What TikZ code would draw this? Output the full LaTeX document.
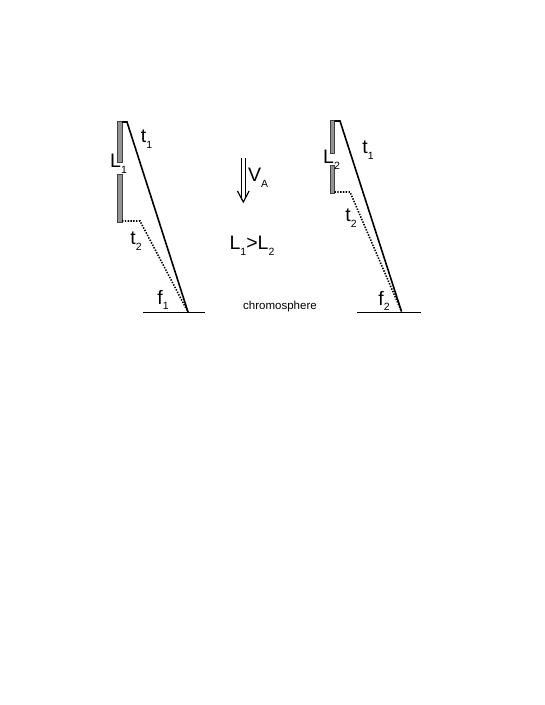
\documentclass[tikz,border=0pt]{standalone}
\usepackage{fontspec}
\setmainfont{Liberation Sans}
\usetikzlibrary{calc}
\newcommand\mysub[1]{\raisebox{-0.3em}{\fontsize{10.5}{11}\selectfont #1}}
\tikzset{
  lbl/.style={inner sep=0pt, font=\fontsize{19.5}{20}\selectfont},
  small/.style={inner sep=0pt, font=\fontsize{11.5}{12}\selectfont},
  bar/.style={fill=black!42, draw=black!75, line width=0.6pt},
  solidline/.style={line width=1.6pt, line join=miter},
  dotline/.style={line width=1.6pt, dash pattern=on 1.4pt off 1.4pt},
  ground/.style={line width=0.9pt},
  arr/.style={line width=1.2pt},
}
\begin{document}
\begin{tikzpicture}[x=1pt,y=-1pt]
\useasboundingbox (0,0) rectangle (545,705);
% ---- left loop ----
\draw[bar] (117.5,121.5) rectangle (122,162);
\draw[bar] (117.5,174) rectangle (122,222);
\coordinate (a1) at (122,122);
\coordinate (a2) at (127,122);
\coordinate (fp1) at (188,312);
\coordinate (b1) at (122,221);
\coordinate (b2) at (140,221);
\coordinate (g1l) at (143,312);
\coordinate (g1r) at (205,312);
\draw[solidline] (a1) -- (a2) -- (fp1);
\draw[dotline] (b1) -- (b2) -- (fp1);
\draw[ground] (g1l) -- (g1r);
\node[lbl] (t1a) at (146.5,139) {t\mysub{1}};
\node[lbl] (L1) at (118.5,164) {L\mysub{1}};
\node[lbl] (t2a) at (136,241) {t\mysub{2}};
\node[lbl] (f1) at (163,300) {f\mysub{1}};
% ---- right loop ----
\draw[bar] (330,120.5) rectangle (334.5,153);
\draw[bar] (330,165) rectangle (334.5,193);
\coordinate (c1) at (334.5,121);
\coordinate (c2) at (340,121);
\coordinate (fp2) at (401.5,311.5);
\coordinate (d1) at (334.5,192);
\coordinate (d2) at (350,192);
\coordinate (g2l) at (357,312);
\coordinate (g2r) at (421,312);
\draw[solidline] (c1) -- (c2) -- (fp2);
\draw[dotline] (d1) -- (d2) -- (fp2);
\draw[ground] (g2l) -- (g2r);
\node[lbl] (t1b) at (368,150) {t\mysub{1}};
\node[lbl] (L2) at (331.5,160) {L\mysub{2}};
\node[lbl] (t2b) at (351,218) {t\mysub{2}};
\node[lbl] (f2) at (384,301) {f\mysub{2}};
% ---- middle ----
\coordinate (vtop) at (243.3,158);
\coordinate (vbot) at (243.3,202);
\draw[arr] ($(vtop)+(-1.8,0)$) -- ($(vbot)+(-1.8,-4)$);
\draw[arr] ($(vtop)+(1.8,0)$) -- ($(vbot)+(1.8,-4)$);
\draw[arr, line join=miter] ($(vbot)+(-5.8,-11)$) -- (vbot) -- ($(vbot)+(5.8,-11)$);
\node[lbl, anchor=west] (vA) at (248,178) {V\mysub{A}};
\node[lbl] (LL) at (252,246) {L\mysub{1}>L\mysub{2}};
\node[small] (chrom) at (280,307) {chromosphere};
\end{tikzpicture}
\end{document}
